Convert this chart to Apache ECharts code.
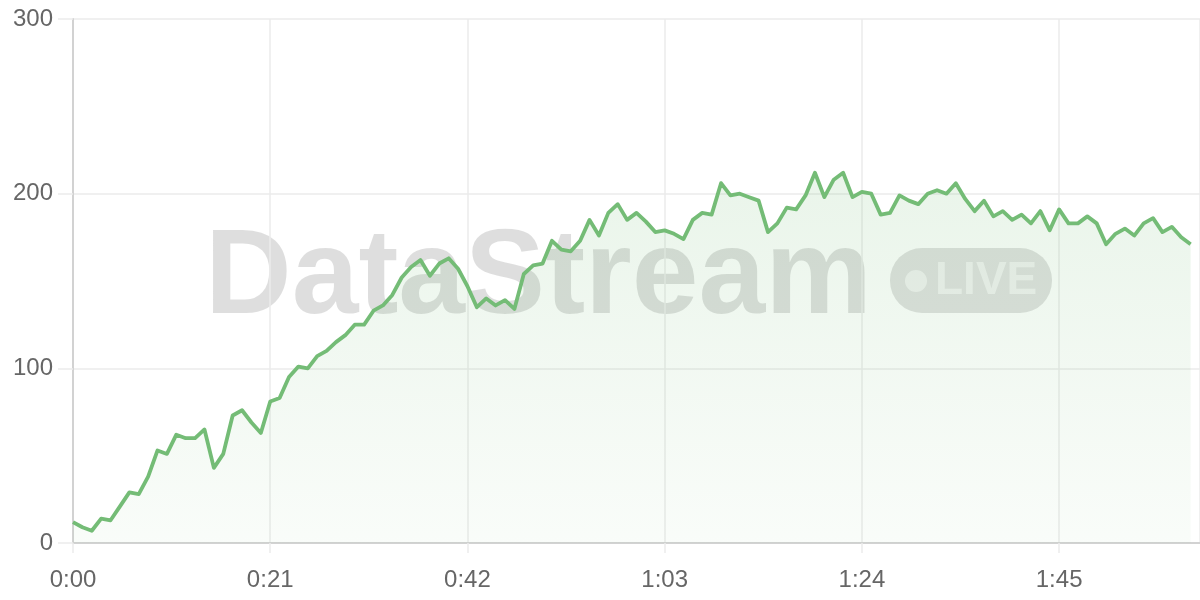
<!DOCTYPE html>
<html>
<head>
<meta charset="utf-8">
<script src="https://cdn.jsdelivr.net/npm/echarts@6/dist/echarts.min.js"></script>
<style>
html,body{margin:0;padding:0;background:#fff;}
#chart{width:1200px;height:600px;}
</style>
</head>
<body>
<div id="chart"></div>
<script>
// seconds 0..119
const values = [
  12, 9, 7, 14, 13, 21, 29, 28, 38, 53,
  51, 62, 60, 60, 65, 43, 51, 73, 76, 69,
  63, 81, 83, 95, 101, 100, 107, 110, 115, 119,
  125, 125, 133, 136, 142, 152, 158, 162, 153, 160,
  163, 157, 147, 135, 140, 136, 139, 134, 154, 159,
  160, 173, 168, 167, 173, 185, 176, 189, 194, 185,
  189, 184, 178, 179, 177, 174, 185, 189, 188, 206,
  199, 200, 198, 196, 178, 183, 192, 191, 199, 212,
  198, 208, 212, 198, 201, 200, 188, 189, 199, 196,
  194, 200, 202, 200, 206, 197, 190, 196, 187, 190,
  185, 188, 183, 190, 179, 191, 183, 183, 187, 183,
  171, 177, 180, 176, 183, 186, 178, 181, 175, 171
];
const seconds = values.map((v, i) => i);
const yTicks = [0, 100, 200, 300];
const xTickSeconds = [0, 21, 42, 63, 84, 105];
const watermarkTitle = 'DataStream';
const watermarkBadge = 'LIVE';

function fmtTime(v) {
  const m = Math.floor(v / 60), s = Math.round(v % 60);
  return m + ':' + (s < 10 ? '0' + s : s);
}

const chart = echarts.init(document.getElementById('chart'), null, {renderer: 'canvas'});
const labelFont = '"Liberation Sans", Arial, sans-serif';
chart.setOption({
  animation: false,
  backgroundColor: '#ffffff',
  grid: {left: 73, right: 0, top: 19, bottom: 57, containLabel: false},
  graphic: [
    {type: 'text', z: 0, style: {x: 205, y: 220, text: watermarkTitle, font: 'bold 120px "Liberation Sans", Arial, sans-serif', fill: 'rgba(0,0,0,0.13)', verticalAlign: 'top'}},
    {type: 'rect', z: 0, shape: {x: 890, y: 248, width: 162, height: 65, r: 32}, style: {fill: 'rgba(0,0,0,0.12)'}},
    {type: 'circle', z: 1, shape: {cx: 916, cy: 281, r: 11}, style: {fill: 'rgba(255,255,255,0.55)'}},
    {type: 'text', z: 1, style: {x: 935, y: 258, text: watermarkBadge, font: 'bold 46px "Liberation Sans", Arial, sans-serif', fill: 'rgba(255,255,255,0.55)', verticalAlign: 'top'}}
  ],
  xAxis: {
    type: 'value',
    min: 0,
    max: 120,
    interval: 21,
    axisLine: {show: true, lineStyle: {color: '#d2d2d2', width: 2}},
    axisTick: {show: true, length: 10, lineStyle: {color: '#ebebeb', width: 1.5}},
    splitLine: {show: true, lineStyle: {color: '#ebebeb', width: 1.5}},
    axisLabel: {
      color: '#666', fontSize: 24, fontFamily: labelFont, margin: 25,
      showMaxLabel: false,
      formatter: v => (xTickSeconds.indexOf(v) >= 0 ? fmtTime(v) : '')
    }
  },
  yAxis: {
    type: 'value',
    min: yTicks[0],
    max: yTicks[yTicks.length - 1],
    interval: 100,
    axisLine: {show: true, lineStyle: {color: '#d2d2d2', width: 2}},
    axisTick: {show: true, length: 15, lineStyle: {color: '#ebebeb', width: 1.5}},
    splitLine: {show: true, lineStyle: {color: '#ebebeb', width: 1.5}},
    axisLabel: {color: '#666', fontSize: 24, fontFamily: labelFont, margin: 20}
  },
  series: [{
    type: 'line',
    data: seconds.map((s, i) => [s, values[i]]),
    showSymbol: false,
    smooth: false,
    z: 3,
    lineStyle: {color: '#74bc76', width: 3.8, join: 'round'},
    areaStyle: {
      color: new echarts.graphic.LinearGradient(0, 0, 0, 1, [
        {offset: 0, color: 'rgba(116,188,118,0.22)'},
        {offset: 1, color: 'rgba(116,188,118,0.06)'}
      ])
    }
  }]
});
</script>
</body>
</html>
